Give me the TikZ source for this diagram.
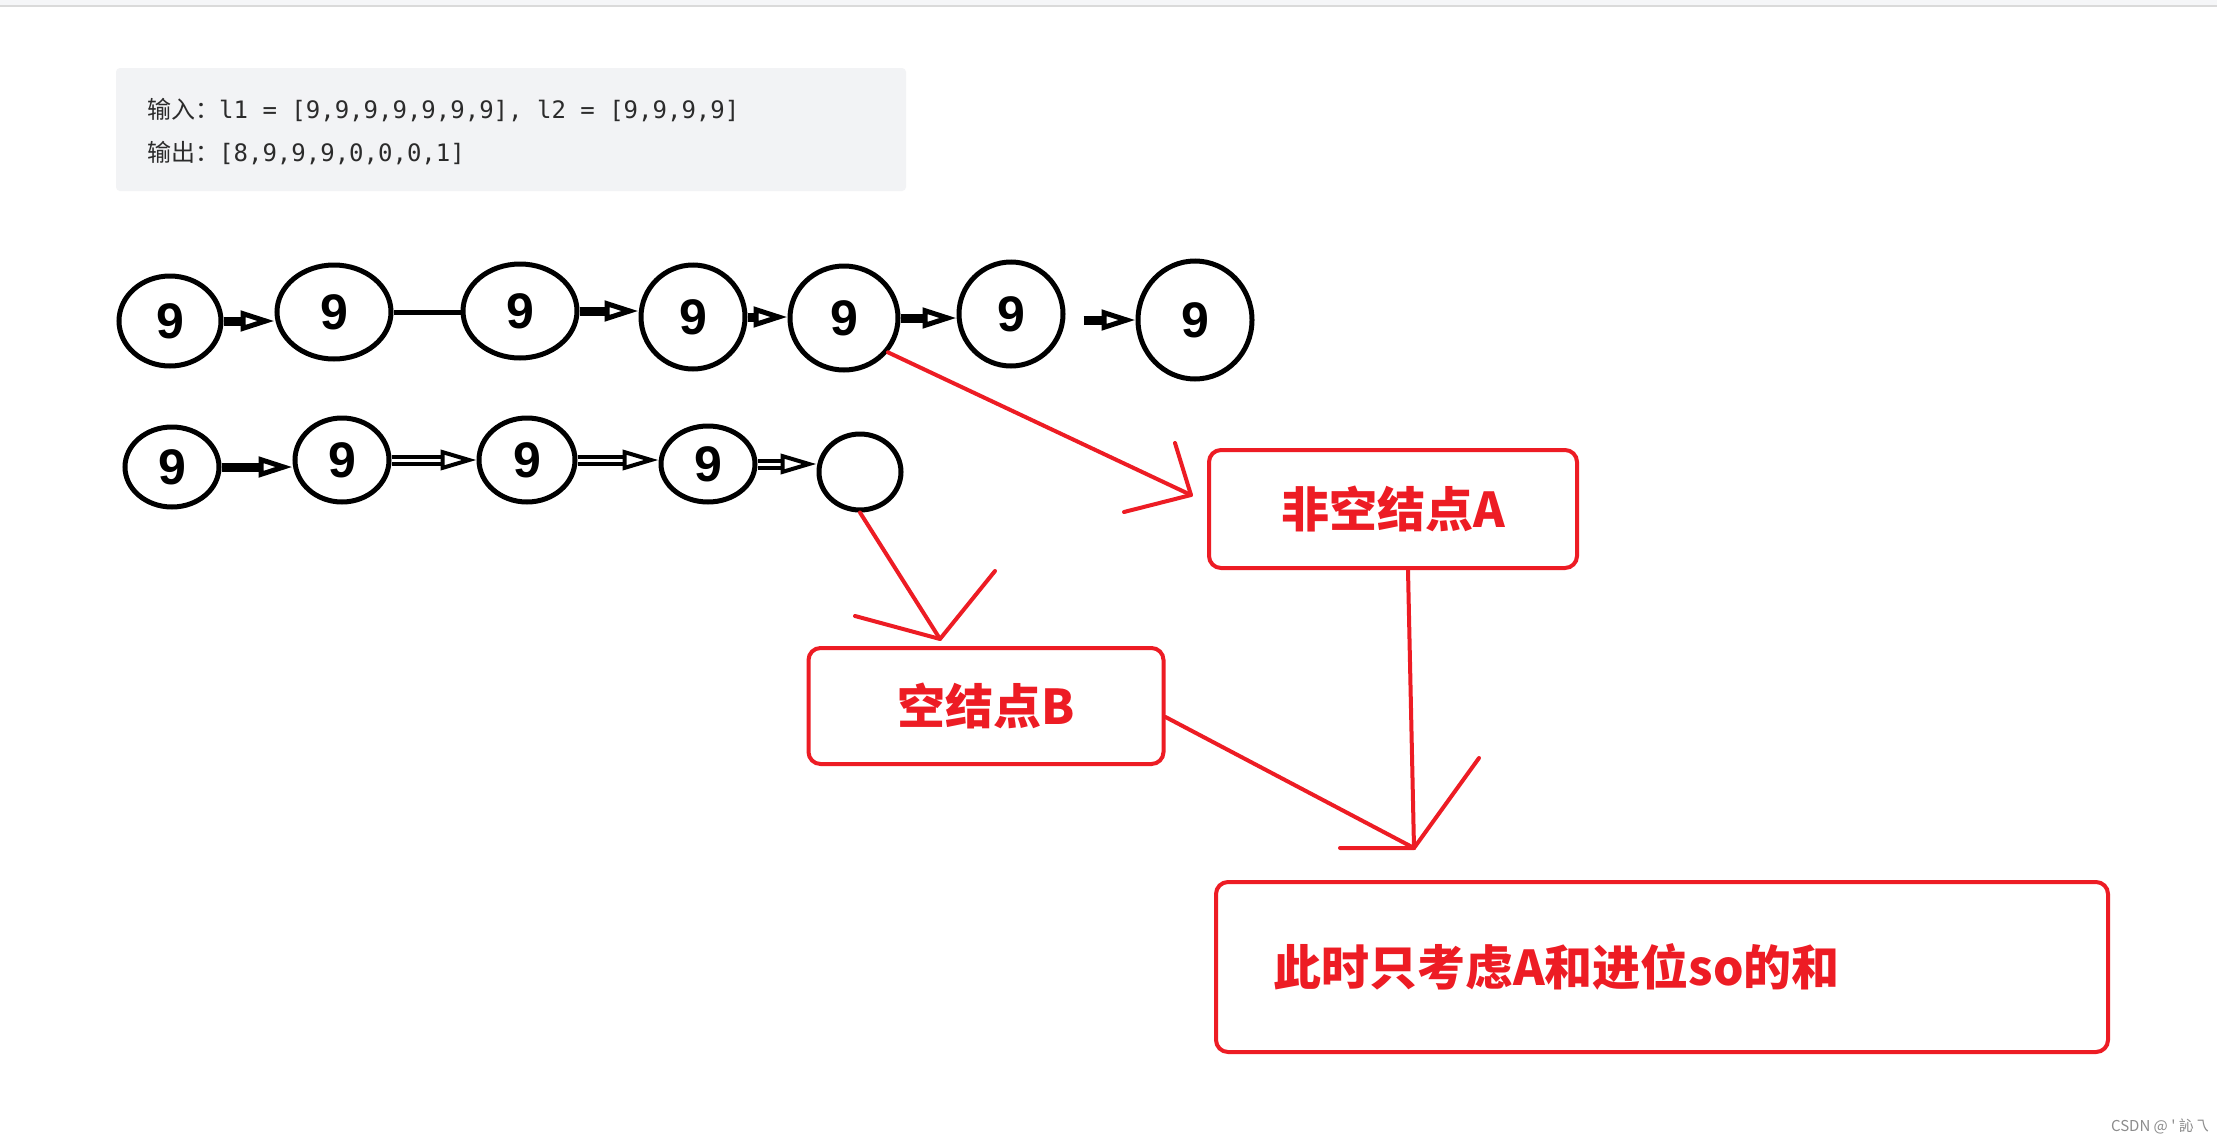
\documentclass[tikz,border=0pt]{standalone}
\usepackage{fontspec}
\usetikzlibrary{shapes.geometric,arrows.meta}
\setmainfont{Liberation Sans}
\newfontfamily\cjk{Noto Sans CJK SC}
\newfontfamily\codefont{DejaVu Sans Mono}
\newfontfamily\ninefont{Liberation Sans}
\definecolor{pred}{HTML}{ED1C24}
\definecolor{codebg}{HTML}{F2F3F5}
\definecolor{codefg}{HTML}{2B2B2B}
\definecolor{topband}{HTML}{F5F6F8}
\definecolor{topline}{HTML}{DADADA}
\begin{document}
\begin{tikzpicture}[x=1pt,y=-1pt,
  nine/.style={ellipse, draw, line width=5pt, inner sep=0pt,
    font=\ninefont\bfseries\fontsize{50}{50}\selectfont},
  thickarr/.style={line width=9pt, -{Triangle[open,length=34pt,width=20pt,line width=5pt]}},
  dblarr/.style={line width=4pt, double=white, double distance=3pt,
    -{Triangle[open,length=36pt,width=20pt,line width=4pt]}},
  plainln/.style={line width=5pt},
  redbox/.style={draw=pred, line width=4pt, rounded corners=12pt, text=pred,
    font=\cjk\bfseries\fontsize{48}{48}\selectfont},
  redln/.style={draw=pred, line width=4pt, line cap=round, line join=round},
  codetxt/.style={anchor=west, inner sep=0pt, text=codefg,
    font=\fontsize{24}{24}\selectfont}
]
\useasboundingbox (0,0) rectangle (2217,1143);
\fill[white] (0,0) rectangle (2217,1143);
\fill[topband] (0,0) rectangle (2217,5);
\draw[topline, line width=2pt] (0,6) -- (2217,6);

% code box
\fill[codebg, rounded corners=4pt] (116,68) rectangle (906,191);
\node[codetxt] (in) at (147,110) {\cjk 输入：\codefont l1 = [9,9,9,9,9,9,9], l2 = [9,9,9,9]};
\node[codetxt] (out) at (147,153) {\cjk 输出：\codefont [8,9,9,9,0,0,0,1]};

% top row
\node[nine, minimum width=102pt, minimum height=90pt] (C1) at (170,321) {9};
\node[nine, minimum width=114pt, minimum height=94pt] (C2) at (334,312) {9};
\node[nine, minimum width=114pt, minimum height=94pt] (C3) at (520,311) {9};
\node[nine, minimum width=104pt, minimum height=104pt] (C4) at (693,317) {9};
\node[nine, minimum width=108pt, minimum height=104pt] (C5) at (844,318) {9};
\node[nine, minimum width=104pt, minimum height=104pt] (C6) at (1011,314) {9};
\node[nine, minimum width=114pt, minimum height=118pt] (C7) at (1195,320) {9};

\draw[thickarr] (C1.east) -- (C1.east -| C2.west);
\draw[plainln] (C2.east) -- (C2.east -| C3.west);
\draw[thickarr] (C3.east) -- (C3.east -| C4.west);
\draw[thickarr] (C4.east) -- (C4.east -| C5.west);
\draw[thickarr] (C5.east) -- (C5.east -| C6.west);
\draw[thickarr, shorten <=18pt] (C7.west -| C6.east) -- (C7.west);

% bottom row
\node[nine, minimum width=94pt, minimum height=80pt] (D1) at (172,467) {9};
\node[nine, minimum width=94pt, minimum height=84pt] (D2) at (342,460) {9};
\node[nine, minimum width=96pt, minimum height=84pt] (D3) at (527,460) {9};
\node[nine, minimum width=94pt, minimum height=76pt] (D4) at (708,464) {9};
\node[nine, minimum width=82pt, minimum height=76pt] (D5) at (860,472) {};

\draw[thickarr] (D1.east) -- (D1.east -| D2.west);
\draw[dblarr] (D2.east) -- (D2.east -| D3.west);
\draw[dblarr] (D3.east) -- (D3.east -| D4.west);
\draw[dblarr] (D4.east) -- (D4.east -| D5.west);

% red boxes
\node[redbox, minimum width=368pt, minimum height=118pt] (A) at (1393,509) {非空结点A};
\node[redbox, minimum width=355pt, minimum height=116pt] (B) at (986,706) {空结点B};
\node[redbox, minimum width=892pt, minimum height=170pt, text width=778pt,
  inner xsep=57pt, align=left] (C) at (1662,967) {此时只考虑A和进位so的和};

% red hand-drawn arrows
\coordinate (hA) at (1191,495);
\coordinate (hA1) at (1175,443);
\coordinate (hA2) at (1124,512);
\draw[redln] (C5.-38) -- (hA);
\draw[redln] (hA1) -- (hA) -- (hA2);

\coordinate (hB) at (940,639);
\coordinate (hB1) at (855,616);
\coordinate (hB2) at (995,571);
\draw[redln] (D5.south) -- (hB);
\draw[redln] (hB1) -- (hB) -- (hB2);

\coordinate (hC) at (1414,848);
\coordinate (hC1) at (1479,758);
\coordinate (hC2) at (1340,848);
\draw[redln] ([xshift=15pt]A.south) -- (hC);
\draw[redln] ([yshift=-11pt]B.east) -- (hC);
\draw[redln] (hC1) -- (hC) -- (hC2);

% watermark
\node[anchor=east, inner sep=0pt, text=black!45, font=\cjk\fontsize{15}{15}\selectfont]
  (wm) at (2209,1126) {CSDN @ ' 訫乁};
\end{tikzpicture}
\end{document}
